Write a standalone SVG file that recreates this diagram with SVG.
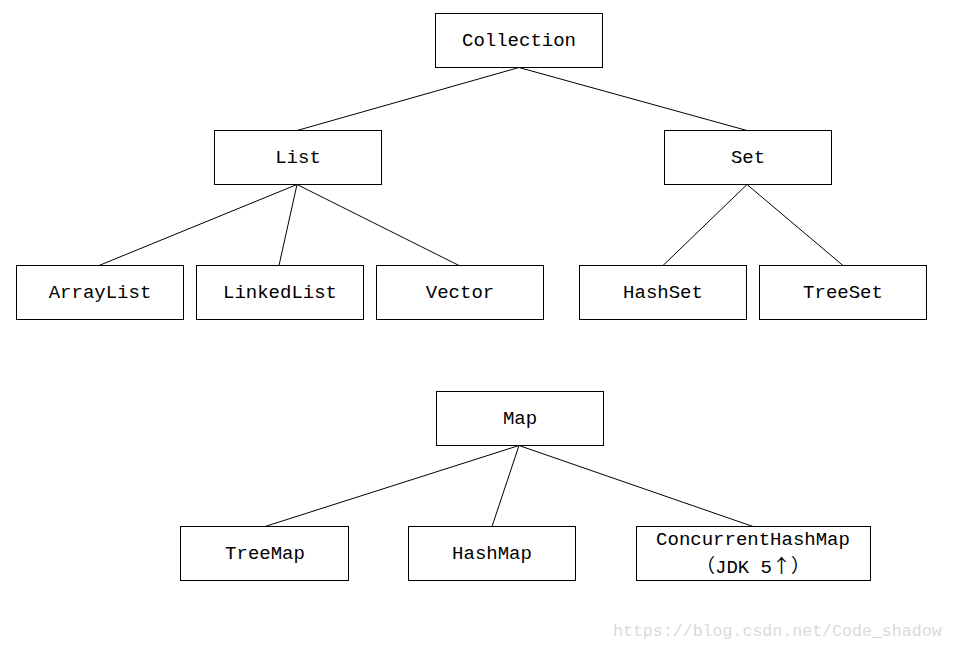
<svg xmlns="http://www.w3.org/2000/svg" width="954" height="649" viewBox="0 0 954 649">
<style>
rect{fill:#fff;stroke:#000;stroke-width:1}
text{font-family:"Liberation Mono","Noto Sans CJK SC",monospace;font-size:19px;fill:#000;text-anchor:middle}
.cjk{font-family:"Noto Sans CJK SC",sans-serif}
.c line{stroke:#000;stroke-width:1}
.wm{font-size:16.6px;fill:#dadada;text-anchor:start}
</style>
<rect x="0" y="0" width="954" height="649" style="stroke:none"/>
<g class="c" id="connectors">
<line x1="519" y1="67.5" x2="297" y2="130.5"/>
<line x1="519" y1="67.5" x2="747" y2="130.5"/>
<line x1="297" y1="184.5" x2="99" y2="265.5"/>
<line x1="297" y1="184.5" x2="279" y2="265.5"/>
<line x1="297" y1="184.5" x2="459" y2="265.5"/>
<line x1="747" y1="184.5" x2="663" y2="265.5"/>
<line x1="747" y1="184.5" x2="843" y2="265.5"/>
<line x1="519" y1="445.5" x2="265" y2="526.5"/>
<line x1="519" y1="445.5" x2="492" y2="526.5"/>
<line x1="519" y1="445.5" x2="753" y2="526.5"/>
</g>
<g id="collection"><rect x="435.5" y="13.5" width="167" height="54"/><text x="519" y="46">Collection</text></g>
<g id="list"><rect x="214.5" y="130.5" width="167" height="54"/><text x="298" y="163">List</text></g>
<g id="set"><rect x="664.5" y="130.5" width="167" height="54"/><text x="748" y="163">Set</text></g>
<g id="arraylist"><rect x="16.5" y="265.5" width="167" height="54"/><text x="100" y="298">ArrayList</text></g>
<g id="linkedlist"><rect x="196.5" y="265.5" width="167" height="54"/><text x="280" y="298">LinkedList</text></g>
<g id="vector"><rect x="376.5" y="265.5" width="167" height="54"/><text x="460" y="298">Vector</text></g>
<g id="hashset"><rect x="579.5" y="265.5" width="167" height="54"/><text x="663" y="298">HashSet</text></g>
<g id="treeset"><rect x="759.5" y="265.5" width="167" height="54"/><text x="843" y="298">TreeSet</text></g>
<g id="map"><rect x="436.5" y="391.5" width="167" height="54"/><text x="520" y="424">Map</text></g>
<g id="treemap"><rect x="180.5" y="526.5" width="168" height="54"/><text x="265" y="559">TreeMap</text></g>
<g id="hashmap"><rect x="408.5" y="526.5" width="167" height="54"/><text x="492" y="559">HashMap</text></g>
<g id="concurrenthashmap"><rect x="636.5" y="526.5" width="234" height="54"/><text x="753" y="545">ConcurrentHashMap</text><text x="753" y="573"><tspan class="cjk">（</tspan>JDK 5<tspan class="cjk">↑）</tspan></text></g>
<text class="wm" x="613" y="636">https://blog.csdn.net/Code_shadow</text>
</svg>
